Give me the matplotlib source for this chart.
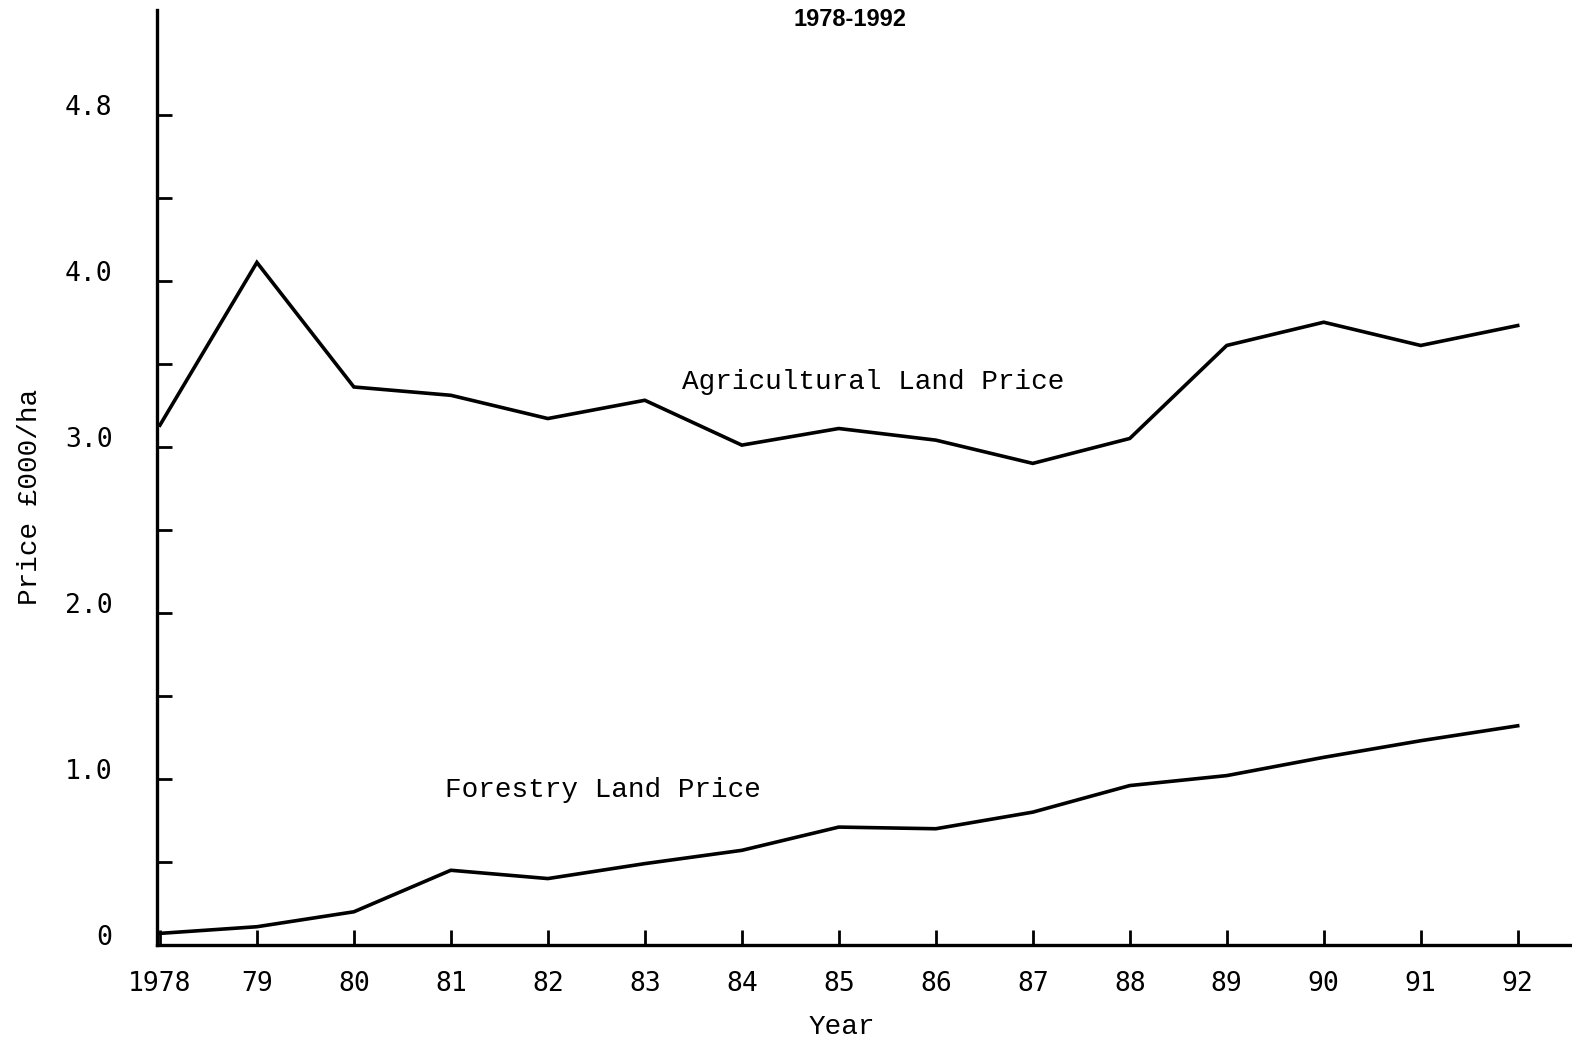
import matplotlib
matplotlib.use("Agg")
import matplotlib.pyplot as plt
import matplotlib.transforms as mtransforms

years = [1978, 1979, 1980, 1981, 1982, 1983, 1984, 1985, 1986, 1987, 1988, 1989, 1990, 1991, 1992]
year_labels = ["1978", "79", "80", "81", "82", "83", "84", "85", "86", "87", "88", "89", "90", "91", "92"]
agricultural = [3.13, 4.11, 3.36, 3.31, 3.17, 3.28, 3.01, 3.11, 3.04, 2.90, 3.05, 3.61, 3.75, 3.61, 3.73]
forestry = [0.07, 0.11, 0.20, 0.45, 0.40, 0.49, 0.57, 0.71, 0.70, 0.80, 0.96, 1.02, 1.13, 1.23, 1.32]
ytick_values = [0, 0.5, 1, 1.5, 2, 2.5, 3, 3.5, 4, 4.5, 5]
ytick_labels = ["0", "", "1.0", "", "2.0", "", "3.0", "", "4.0", "", "4.8"]

W, H = 1572, 1047
fig = plt.figure(figsize=(W / 100, H / 100), dpi=100)
ax = fig.add_axes([157 / W, (H - 945) / H, (W - 157) / W, (945 - 10) / H])

ax.plot(years, agricultural, color="black", lw=2.6, solid_joinstyle="miter")
ax.plot(years, forestry, color="black", lw=2.6, solid_joinstyle="miter")

ax.set_xlim(1977.97, 1992.56)
ax.set_ylim(0, 5.63)

for s in ["top", "right"]:
    ax.spines[s].set_visible(False)
for s in ["left", "bottom"]:
    ax.spines[s].set_linewidth(2.4)

mono = "DejaVu Sans Mono"
typew = "Liberation Mono"

ax.set_xticks(years)
ax.set_xticklabels(year_labels, fontfamily=mono, fontsize=19, fontweight="medium")
ax.set_yticks(ytick_values)
ax.set_yticklabels(ytick_labels, fontfamily=mono, fontsize=19)
ax.tick_params(axis="x", direction="in", length=11, width=2, pad=19)
ax.tick_params(axis="y", direction="in", length=11, width=2, pad=32)

offset = mtransforms.ScaledTranslation(0, 10 / 100, fig.dpi_scale_trans)
for lbl in ax.get_yticklabels():
    lbl.set_transform(lbl.get_transform() + offset)

ax.text(682 / W, 1 - 382 / H, "Agricultural Land Price", transform=fig.transFigure,
        fontfamily=typew, fontsize=20, ha="left", va="center")
ax.text(445 / W, 1 - 790 / H, "Forestry Land Price", transform=fig.transFigure,
        fontfamily=typew, fontsize=20, ha="left", va="center")
fig.text(842 / W, 1 - 1027 / H, "Year", fontfamily=typew, fontsize=20,
         ha="center", va="center")
fig.text(30 / W, 1 - 497 / H, "Price £000/ha", fontfamily=typew, fontsize=20,
         ha="center", va="center", rotation=90)
fig.text(850 / W, 1 - 20 / H, "1978-1992", fontfamily="Liberation Sans",
         fontsize=17, fontweight="bold", ha="center", va="center")

fig.savefig("out.png", dpi=100)
